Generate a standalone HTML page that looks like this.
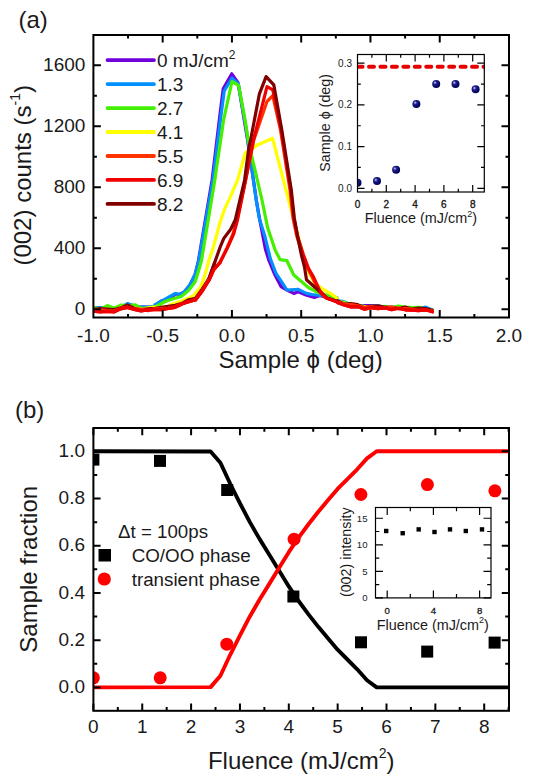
<!DOCTYPE html>
<html><head><meta charset="utf-8"><style>
html,body{margin:0;padding:0;background:#fff;}
svg{display:block;}
text{font-family:"Liberation Sans", sans-serif;fill:#1a1a1a;}
</style></head><body>
<svg width="544" height="784" viewBox="0 0 544 784">
<rect width="544" height="784" fill="#fff"/>
<text x="18.40" y="27.60" font-size="24.00" text-anchor="start" >(a)</text>
<text x="15.00" y="417.90" font-size="24.00" text-anchor="start" >(b)</text>
<defs><clipPath id="ca"><rect x="93.40" y="35.00" width="415.60" height="282.50"/></clipPath>
<clipPath id="cb"><rect x="93.4" y="428" width="415.6" height="282.8"/></clipPath>
<clipPath id="cia"><rect x="357.5" y="54.5" width="126.8" height="137.5"/></clipPath>
<radialGradient id="sph" cx="0.35" cy="0.35" r="0.65"><stop offset="0" stop-color="#c8c8f0"/><stop offset="0.35" stop-color="#1c1c8c"/><stop offset="1" stop-color="#000050"/></radialGradient>
</defs>
<g clip-path="url(#ca)" fill="none" stroke-width="3.2" stroke-linejoin="round" stroke-linecap="round">
<polyline points="93.4,308.0 100.7,307.7 108.0,307.5 115.3,308.6 122.6,305.8 129.8,304.9 137.1,307.1 144.4,307.0 151.7,307.2 159.0,306.7 159.0,302.5 162.0,300.5 165.7,301.0 170.0,299.0 175.3,294.0 179.7,294.5 184.1,292.3 190.0,285.0 195.1,274.5 198.2,262.0 212.1,180.0 219.3,120.0 223.2,88.7 231.8,73.8 238.0,82.6 247.6,140.0 256.3,200.0 259.5,218.4 265.5,249.6 269.0,260.7 274.5,274.0 281.0,286.5 287.0,290.0 293.8,293.4 298.3,291.7 306.0,295.0 314.4,297.4 319.0,295.7 337.0,298.5 337.0,301.0 343.8,303.0 350.6,305.0 357.4,306.4 364.3,305.7 371.1,305.7 377.9,306.6 384.7,306.6 391.5,308.3 398.3,308.3 405.1,308.1 412.0,308.4 418.8,309.0 425.6,307.5 432.4,310.4" stroke="#7000dc"/>
<polyline points="93.4,308.2 100.2,307.5 107.0,307.9 113.8,308.6 120.6,307.5 127.5,303.6 134.3,306.0 141.1,307.2 147.9,307.1 154.7,307.2 154.7,305.0 166.5,298.5 175.3,293.5 179.7,294.3 184.1,292.1 190.0,284.7 195.1,274.4 198.7,261.0 212.9,180.0 220.4,120.0 224.2,91.0 232.0,78.2 238.3,84.0 246.4,130.0 256.2,200.0 259.3,218.4 265.0,236.8 270.4,258.8 276.0,273.5 281.0,280.8 286.9,290.0 298.3,289.4 306.4,293.4 312.1,294.5 337.0,297.5 337.0,300.6 343.8,301.6 350.6,304.8 357.4,305.9 364.3,307.4 371.1,306.0 377.9,305.9 384.7,307.4 391.5,307.5 398.3,306.8 405.1,307.9 412.0,307.6 418.8,308.9 425.6,307.1 432.4,310.0" stroke="#0090ff"/>
<polyline points="93.4,307.7 100.4,308.9 107.4,305.6 114.3,308.3 121.3,305.0 128.3,305.5 135.3,304.8 142.2,308.6 149.2,307.6 156.2,306.6 156.2,306.5 165.0,301.5 172.4,299.0 181.2,296.5 188.5,290.6 195.1,281.8 198.8,270.0 201.6,260.0 214.8,180.0 223.6,120.0 232.0,81.5 238.6,85.4 245.1,120.0 248.4,142.0 262.0,200.0 267.6,227.6 275.0,249.6 280.0,259.6 286.9,260.7 293.8,275.0 308.7,287.7 317.8,292.2 337.0,298.5 337.0,300.8 343.8,302.4 350.6,304.4 357.4,305.5 364.3,306.3 371.1,306.5 377.9,307.2 384.7,306.3 391.5,307.7 398.3,306.1 405.1,307.1 412.0,307.6 418.8,307.3 425.6,309.0 432.4,310.2" stroke="#44f000"/>
<polyline points="93.4,309.2 100.3,309.0 107.2,309.1 114.1,310.1 121.0,307.2 127.9,306.0 134.9,308.1 141.8,309.3 148.7,307.8 155.6,307.2 162.5,307.5 169.4,306.8 169.4,305.0 184.1,300.0 192.9,296.0 200.3,287.6 204.7,275.9 209.0,260.0 212.5,250.0 220.0,222.6 224.4,209.4 230.0,197.6 237.6,180.0 245.4,152.8 258.0,144.7 272.6,138.3 288.3,198.9 293.8,219.3 301.8,250.0 307.5,270.0 314.5,283.0 322.4,288.8 330.5,293.4 337.0,298.0 337.0,301.9 343.8,303.1 350.6,305.9 357.4,306.4 364.3,306.7 371.1,307.8 377.9,307.8 384.7,308.0 391.5,308.3 398.3,308.0 405.1,308.1 412.0,309.7 418.8,309.0 425.6,309.8 432.4,311.3" stroke="#ffff00"/>
<polyline points="93.4,309.4 100.2,308.5 107.0,309.1 113.8,309.7 120.6,307.9 127.4,304.9 134.2,308.3 141.0,309.7 147.8,308.9 154.7,308.4 161.5,307.4 168.3,306.3 175.1,305.4 181.9,303.4 188.7,299.7 195.5,298.3 202.3,288.9 209.1,278.2 214.6,262.8" stroke="#800000"/>
<polyline points="337.3,301.4 337.3,300.8 344.1,304.0 350.9,303.6 357.7,304.6 364.5,307.6 371.3,306.0 378.1,305.8 384.9,307.4 391.6,307.0 398.4,308.5 405.2,307.0 412.0,309.2 418.8,308.0 425.6,308.5 432.4,310.2" stroke="#800000"/>
<polyline points="93.4,310.4 100.2,309.9 107.0,310.6 113.8,311.1 120.6,308.4 127.4,307.2 134.2,309.0 141.0,309.2 147.8,310.7 154.7,308.9 161.5,308.6 168.3,308.1 175.1,306.8 181.9,303.5 188.7,302.0 195.5,299.4 202.3,290.4 209.1,279.2 213.5,270.0 220.0,262.0 227.0,248.0 233.0,234.0 237.0,220.0 245.5,180.0 253.8,140.0 267.0,101.5 272.8,95.7 280.5,130.0 290.0,190.0 293.0,218.0 296.8,236.3 302.5,254.5 307.8,268.5 312.0,276.5 319.0,291.3 325.0,297.5 337.3,301.8 337.3,301.6 344.1,304.3 350.9,304.6 357.7,305.9 364.5,307.5 371.3,306.5 378.1,308.2 384.9,308.4 391.6,307.0 398.4,308.8 405.2,308.5 412.0,309.2 418.8,310.3 425.6,310.2 432.4,311.0" stroke="#ff3300"/>
<polyline points="93.4,311.2 100.2,311.8 107.0,311.4 113.8,312.0 120.6,308.9 127.4,307.4 134.2,309.4 141.0,310.9 147.8,309.9 154.7,309.6 161.5,309.7 168.3,308.5 175.1,307.3 181.9,304.1 188.7,301.5 195.5,300.0 202.3,291.0 209.1,280.0 213.5,270.0 220.0,262.8 227.6,247.5 233.7,233.8 237.5,220.0 245.7,180.0 253.5,140.0 267.0,86.6 272.8,89.9 281.2,130.0 290.7,190.0 293.8,218.0 297.6,236.3 303.3,254.5 308.6,268.5 313.0,276.0 319.9,291.0 325.5,297.5 337.3,302.0 337.3,302.4 344.1,305.0 350.9,306.9 357.7,306.6 364.5,309.2 371.3,307.6 378.1,308.7 384.9,307.6 391.6,309.6 398.4,308.3 405.2,309.8 412.0,310.2 418.8,310.6 425.6,309.7 432.4,311.8" stroke="#f00000"/>
<polyline points="209.1,278.2 214.6,262.8 220.0,247.5 223.8,238.4 230.7,229.2 235.2,220.0 244.6,180.0 249.0,146.5 250.6,140.0 259.4,93.8 266.1,76.6 273.8,84.9 281.8,130.0 291.3,190.0 294.3,218.0 297.6,236.3 301.3,254.5 304.5,267.0 306.5,279.8 314.3,286.8 321.0,292.5 327.0,298.2 337.3,301.4 337.3,300.8" stroke="#800000"/>
<polyline points="93.4,311.2 100.2,311.8 107.0,311.4 113.8,312.0 120.6,308.9 127.4,307.4 134.2,309.4 141.0,310.9 147.8,309.9 154.7,309.6 161.5,309.7 168.3,308.5 175.1,307.3 181.9,304.1 188.7,301.5 195.5,300.0 202.3,291.0 209.1,280.0 213.5,270.0 220.0,262.8" stroke="#f00000"/>
<polyline points="319.9,291.0 325.5,297.5 337.3,302.0 337.3,302.4 344.1,305.0 350.9,306.9 357.7,306.6 364.5,309.2 371.3,307.6 378.1,308.7 384.9,307.6 391.6,309.6 398.4,308.3 405.2,309.8 412.0,310.2 418.8,310.6 425.6,309.7 432.4,311.8" stroke="#f00000"/>
</g>
<rect x="93.40" y="35.00" width="415.60" height="282.50" fill="none" stroke="#000" stroke-width="2"/>
<path d="M162.67 317.50v-7.50M162.67 35.00v7.50M231.93 317.50v-7.50M231.93 35.00v7.50M301.20 317.50v-7.50M301.20 35.00v7.50M370.46 317.50v-7.50M370.46 35.00v7.50M439.73 317.50v-7.50M439.73 35.00v7.50M128.03 317.50v-3.50M128.03 35.00v3.50M197.30 317.50v-3.50M197.30 35.00v3.50M266.56 317.50v-3.50M266.56 35.00v3.50M335.83 317.50v-3.50M335.83 35.00v3.50M405.09 317.50v-3.50M405.09 35.00v3.50M474.36 317.50v-3.50M474.36 35.00v3.50M93.40 309.20h7.50M509.00 309.20h-7.50M93.40 248.20h7.50M509.00 248.20h-7.50M93.40 187.20h7.50M509.00 187.20h-7.50M93.40 126.20h7.50M509.00 126.20h-7.50M93.40 65.20h7.50M509.00 65.20h-7.50M93.40 278.70h3.50M509.00 278.70h-3.50M93.40 217.70h3.50M509.00 217.70h-3.50M93.40 156.70h3.50M509.00 156.70h-3.50M93.40 95.70h3.50M509.00 95.70h-3.50" stroke="#000" stroke-width="2" fill="none"/>
<text x="93.40" y="341.50" font-size="19.00" text-anchor="middle" >-1.0</text>
<text x="162.67" y="341.50" font-size="19.00" text-anchor="middle" >-0.5</text>
<text x="231.93" y="341.50" font-size="19.00" text-anchor="middle" >0.0</text>
<text x="301.20" y="341.50" font-size="19.00" text-anchor="middle" >0.5</text>
<text x="370.46" y="341.50" font-size="19.00" text-anchor="middle" >1.0</text>
<text x="439.73" y="341.50" font-size="19.00" text-anchor="middle" >1.5</text>
<text x="508.99" y="341.50" font-size="19.00" text-anchor="middle" >2.0</text>
<text x="85.40" y="314.60" font-size="19.00" text-anchor="end" >0</text>
<text x="85.40" y="253.60" font-size="19.00" text-anchor="end" >400</text>
<text x="85.40" y="192.60" font-size="19.00" text-anchor="end" >800</text>
<text x="85.40" y="131.60" font-size="19.00" text-anchor="end" >1200</text>
<text x="85.40" y="70.60" font-size="19.00" text-anchor="end" >1600</text>
<text x="300.60" y="368.20" font-size="24.00" text-anchor="middle" >Sample &#981; (deg)</text>
<text transform="translate(31,175.3) rotate(-90)" font-size="24.00" text-anchor="middle">(002) counts (s<tspan font-size="14" dy="-11">-1</tspan><tspan dy="11">)</tspan></text>
<line x1="107.5" y1="60.10" x2="154" y2="60.10" stroke="#7000dc" stroke-width="3.8" stroke-linecap="round"/>
<text x="157.00" y="66.80" font-size="19.00" text-anchor="start" >0 mJ/cm<tspan font-size="12" dy="-8">2</tspan></text>
<line x1="107.5" y1="84.07" x2="154" y2="84.07" stroke="#0090ff" stroke-width="3.8" stroke-linecap="round"/>
<text x="157.00" y="90.77" font-size="19.00" text-anchor="start" >1.3</text>
<line x1="107.5" y1="108.04" x2="154" y2="108.04" stroke="#44f000" stroke-width="3.8" stroke-linecap="round"/>
<text x="157.00" y="114.74" font-size="19.00" text-anchor="start" >2.7</text>
<line x1="107.5" y1="132.01" x2="154" y2="132.01" stroke="#ffff00" stroke-width="3.8" stroke-linecap="round"/>
<text x="157.00" y="138.71" font-size="19.00" text-anchor="start" >4.1</text>
<line x1="107.5" y1="155.98" x2="154" y2="155.98" stroke="#ff3300" stroke-width="3.8" stroke-linecap="round"/>
<text x="157.00" y="162.68" font-size="19.00" text-anchor="start" >5.5</text>
<line x1="107.5" y1="179.95" x2="154" y2="179.95" stroke="#f00000" stroke-width="3.8" stroke-linecap="round"/>
<text x="157.00" y="186.65" font-size="19.00" text-anchor="start" >6.9</text>
<line x1="107.5" y1="203.92" x2="154" y2="203.92" stroke="#800000" stroke-width="3.8" stroke-linecap="round"/>
<text x="157.00" y="210.62" font-size="19.00" text-anchor="start" >8.2</text>
<rect x="357.50" y="54.50" width="126.80" height="137.50" fill="#fff"/>
<line x1="357.5" y1="66.8" x2="490" y2="66.8" stroke="#e80000" stroke-width="3.9" stroke-dasharray="5.1 6.35" stroke-linecap="round" clip-path="url(#cia)"/>
<g clip-path="url(#cia)">
<circle cx="357.5" cy="182.8" r="4.0" fill="url(#sph)"/>
<circle cx="377.0" cy="181.1" r="4.0" fill="url(#sph)"/>
<circle cx="396.1" cy="169.8" r="4.0" fill="url(#sph)"/>
<circle cx="416.4" cy="103.9" r="4.0" fill="url(#sph)"/>
<circle cx="436.2" cy="83.9" r="4.0" fill="url(#sph)"/>
<circle cx="455.5" cy="83.9" r="4.0" fill="url(#sph)"/>
<circle cx="475.6" cy="89.3" r="4.0" fill="url(#sph)"/>
</g>
<rect x="357.50" y="54.50" width="126.80" height="137.50" fill="none" stroke="#000" stroke-width="1.2"/>
<path d="M386.30 192.00v-7.00M386.30 54.50v7.00M415.10 192.00v-7.00M415.10 54.50v7.00M443.90 192.00v-7.00M443.90 54.50v7.00M472.70 192.00v-7.00M472.70 54.50v7.00M371.90 192.00v-3.30M371.90 54.50v3.30M400.70 192.00v-3.30M400.70 54.50v3.30M429.50 192.00v-3.30M429.50 54.50v3.30M458.30 192.00v-3.30M458.30 54.50v3.30M357.50 188.30h7.00M484.30 188.30h-7.00M357.50 146.60h7.00M484.30 146.60h-7.00M357.50 104.90h7.00M484.30 104.90h-7.00M357.50 63.20h7.00M484.30 63.20h-7.00M357.50 167.45h3.30M484.30 167.45h-3.30M357.50 125.75h3.30M484.30 125.75h-3.30M357.50 84.05h3.30M484.30 84.05h-3.30" stroke="#000" stroke-width="1.2" fill="none"/>
<text x="357.50" y="208.20" font-size="10.00" text-anchor="middle" stroke="#1a1a1a" stroke-width="0.35">0</text>
<text x="386.30" y="208.20" font-size="10.00" text-anchor="middle" stroke="#1a1a1a" stroke-width="0.35">2</text>
<text x="415.10" y="208.20" font-size="10.00" text-anchor="middle" stroke="#1a1a1a" stroke-width="0.35">4</text>
<text x="443.90" y="208.20" font-size="10.00" text-anchor="middle" stroke="#1a1a1a" stroke-width="0.35">6</text>
<text x="472.70" y="208.20" font-size="10.00" text-anchor="middle" stroke="#1a1a1a" stroke-width="0.35">8</text>
<text x="352.00" y="191.80" font-size="10.00" text-anchor="end" >0.0</text>
<text x="352.00" y="150.10" font-size="10.00" text-anchor="end" >0.1</text>
<text x="352.00" y="108.40" font-size="10.00" text-anchor="end" >0.2</text>
<text x="352.00" y="66.70" font-size="10.00" text-anchor="end" >0.3</text>
<text x="420.90" y="223.20" font-size="14.40" text-anchor="middle" >Fluence (mJ/cm<tspan font-size="9" dy="-6.5">2</tspan><tspan dy="6.5">)</tspan></text>
<text transform="translate(329.7,122.9) rotate(-90)" font-size="14.3" text-anchor="middle">Sample &#981; (deg)</text>
<g clip-path="url(#cb)">
<polyline points="90.0,451.2 210.6,451.5 220.4,462.8 230.2,483.8 240.0,503.3 249.7,521.9 259.5,538.9 269.3,554.7 279.0,570.5 288.8,586.4 298.6,601.0 308.3,614.1 318.1,626.6 327.9,638.3 337.6,649.7 347.4,659.5 357.2,669.3 367.0,680.2 376.7,687.4 512.0,687.4" fill="none" stroke="#000" stroke-width="3.9" stroke-linejoin="round"/>
<polyline points="90.0,687.4 210.6,687.1 220.4,675.8 230.2,654.8 240.0,635.3 249.7,616.7 259.5,599.7 269.3,583.9 279.0,568.1 288.8,552.2 298.6,537.6 308.3,524.5 318.1,512.0 327.9,500.3 337.6,488.9 347.4,479.1 357.2,469.3 367.0,458.4 376.7,451.2 512.0,451.2" fill="none" stroke="#f00" stroke-width="3.9" stroke-linejoin="round"/>
<rect x="87.4" y="453.6" width="12" height="12" fill="#000"/>
<rect x="154.0" y="454.9" width="12" height="12" fill="#000"/>
<rect x="221.2" y="484.0" width="12" height="12" fill="#000"/>
<rect x="287.4" y="590.5" width="12" height="12" fill="#000"/>
<rect x="355.0" y="636.3" width="12" height="12" fill="#000"/>
<rect x="421.2" y="645.6" width="12" height="12" fill="#000"/>
<rect x="488.6" y="636.6" width="12" height="12" fill="#000"/>
<circle cx="93.4" cy="677.8" r="6.5" fill="#f00"/>
<circle cx="160.2" cy="677.8" r="6.5" fill="#f00"/>
<circle cx="226.8" cy="644.2" r="6.5" fill="#f00"/>
<circle cx="294.1" cy="539.2" r="6.5" fill="#f00"/>
<circle cx="360.9" cy="494.5" r="6.5" fill="#f00"/>
<circle cx="427.4" cy="484.6" r="6.5" fill="#f00"/>
<circle cx="494.9" cy="490.8" r="6.5" fill="#f00"/>
</g>
<rect x="93.40" y="428.00" width="415.60" height="282.80" fill="none" stroke="#000" stroke-width="2"/>
<path d="M93.40 710.80v-7.20M93.40 428.00v7.20M142.25 710.80v-7.20M142.25 428.00v7.20M191.10 710.80v-7.20M191.10 428.00v7.20M239.95 710.80v-7.20M239.95 428.00v7.20M288.80 710.80v-7.20M288.80 428.00v7.20M337.65 710.80v-7.20M337.65 428.00v7.20M386.50 710.80v-7.20M386.50 428.00v7.20M435.35 710.80v-7.20M435.35 428.00v7.20M484.20 710.80v-7.20M484.20 428.00v7.20M117.83 710.80v-3.80M117.83 428.00v3.80M166.68 710.80v-3.80M166.68 428.00v3.80M215.53 710.80v-3.80M215.53 428.00v3.80M264.38 710.80v-3.80M264.38 428.00v3.80M313.23 710.80v-3.80M313.23 428.00v3.80M362.08 710.80v-3.80M362.08 428.00v3.80M410.93 710.80v-3.80M410.93 428.00v3.80M459.77 710.80v-3.80M459.77 428.00v3.80M508.62 710.80v-3.80M508.62 428.00v3.80M93.40 687.40h7.20M509.00 687.40h-7.20M93.40 640.18h7.20M509.00 640.18h-7.20M93.40 592.96h7.20M509.00 592.96h-7.20M93.40 545.74h7.20M509.00 545.74h-7.20M93.40 498.52h7.20M509.00 498.52h-7.20M93.40 451.30h7.20M509.00 451.30h-7.20M93.40 663.79h3.80M509.00 663.79h-3.80M93.40 616.57h3.80M509.00 616.57h-3.80M93.40 569.35h3.80M509.00 569.35h-3.80M93.40 522.13h3.80M509.00 522.13h-3.80M93.40 474.91h3.80M509.00 474.91h-3.80" stroke="#000" stroke-width="2" fill="none"/>
<text x="93.40" y="733.00" font-size="19.00" text-anchor="middle" >0</text>
<text x="142.25" y="733.00" font-size="19.00" text-anchor="middle" >1</text>
<text x="191.10" y="733.00" font-size="19.00" text-anchor="middle" >2</text>
<text x="239.95" y="733.00" font-size="19.00" text-anchor="middle" >3</text>
<text x="288.80" y="733.00" font-size="19.00" text-anchor="middle" >4</text>
<text x="337.65" y="733.00" font-size="19.00" text-anchor="middle" >5</text>
<text x="386.50" y="733.00" font-size="19.00" text-anchor="middle" >6</text>
<text x="435.35" y="733.00" font-size="19.00" text-anchor="middle" >7</text>
<text x="484.20" y="733.00" font-size="19.00" text-anchor="middle" >8</text>
<text x="85.00" y="693.00" font-size="19.00" text-anchor="end" >0.0</text>
<text x="85.00" y="645.78" font-size="19.00" text-anchor="end" >0.2</text>
<text x="85.00" y="598.56" font-size="19.00" text-anchor="end" >0.4</text>
<text x="85.00" y="551.34" font-size="19.00" text-anchor="end" >0.6</text>
<text x="85.00" y="504.12" font-size="19.00" text-anchor="end" >0.8</text>
<text x="85.00" y="456.90" font-size="19.00" text-anchor="end" >1.0</text>
<text x="301.20" y="769.40" font-size="24.00" text-anchor="middle" >Fluence (mJ/cm<tspan font-size="14" dy="-11">2</tspan><tspan dy="11">)</tspan></text>
<text transform="translate(37.2,569.3) rotate(-90)" font-size="24.00" text-anchor="middle">Sample fraction</text>
<text x="118.10" y="538.00" font-size="18.70" text-anchor="start" >&#916;t = 100ps</text>
<rect x="98.5" y="549" width="12.5" height="12.5" fill="#000"/>
<text x="131.70" y="562.00" font-size="18.80" text-anchor="start" >CO/OO phase</text>
<circle cx="104.3" cy="579" r="6.6" fill="#f00"/>
<text x="131.70" y="585.50" font-size="18.80" text-anchor="start" >transient phase</text>
<rect x="375.50" y="507.50" width="115.50" height="90.40" fill="#fff"/>
<rect x="384.0" y="528.8" width="4.4" height="4.4" fill="#000"/>
<rect x="400.5" y="531.0" width="4.4" height="4.4" fill="#000"/>
<rect x="416.5" y="527.2" width="4.4" height="4.4" fill="#000"/>
<rect x="432.3" y="529.8" width="4.4" height="4.4" fill="#000"/>
<rect x="447.8" y="527.2" width="4.4" height="4.4" fill="#000"/>
<rect x="463.6" y="528.8" width="4.4" height="4.4" fill="#000"/>
<rect x="479.8" y="527.2" width="4.4" height="4.4" fill="#000"/>
<rect x="375.50" y="507.50" width="115.50" height="90.40" fill="none" stroke="#000" stroke-width="1.2"/>
<path d="M387.20 597.90v-7.50M387.20 507.50v7.50M433.40 597.90v-7.50M433.40 507.50v7.50M479.60 597.90v-7.50M479.60 507.50v7.50M410.30 597.90v-3.80M410.30 507.50v3.80M456.50 597.90v-3.80M456.50 507.50v3.80M375.50 597.90h7.50M491.00 597.90h-7.50M375.50 571.35h7.50M491.00 571.35h-7.50M375.50 544.80h7.50M491.00 544.80h-7.50M375.50 518.25h7.50M491.00 518.25h-7.50M375.50 584.62h3.80M491.00 584.62h-3.80M375.50 558.07h3.80M491.00 558.07h-3.80M375.50 531.52h3.80M491.00 531.52h-3.80" stroke="#000" stroke-width="1.2" fill="none"/>
<text x="387.20" y="614.00" font-size="9.60" text-anchor="middle" stroke="#1a1a1a" stroke-width="0.3">0</text>
<text x="433.40" y="614.00" font-size="9.60" text-anchor="middle" stroke="#1a1a1a" stroke-width="0.3">4</text>
<text x="479.60" y="614.00" font-size="9.60" text-anchor="middle" stroke="#1a1a1a" stroke-width="0.3">8</text>
<text x="367.50" y="601.20" font-size="9.60" text-anchor="end" >0</text>
<text x="367.50" y="574.65" font-size="9.60" text-anchor="end" >5</text>
<text x="367.50" y="548.10" font-size="9.60" text-anchor="end" >10</text>
<text x="367.50" y="521.55" font-size="9.60" text-anchor="end" >15</text>
<text x="432.80" y="629.90" font-size="14.40" text-anchor="middle" >Fluence (mJ/cm<tspan font-size="9" dy="-6.5">2</tspan><tspan dy="6.5">)</tspan></text>
<text transform="translate(351.3,552.2) rotate(-90)" font-size="14.3" text-anchor="middle">(002) intensity</text>
</svg>
</body></html>
